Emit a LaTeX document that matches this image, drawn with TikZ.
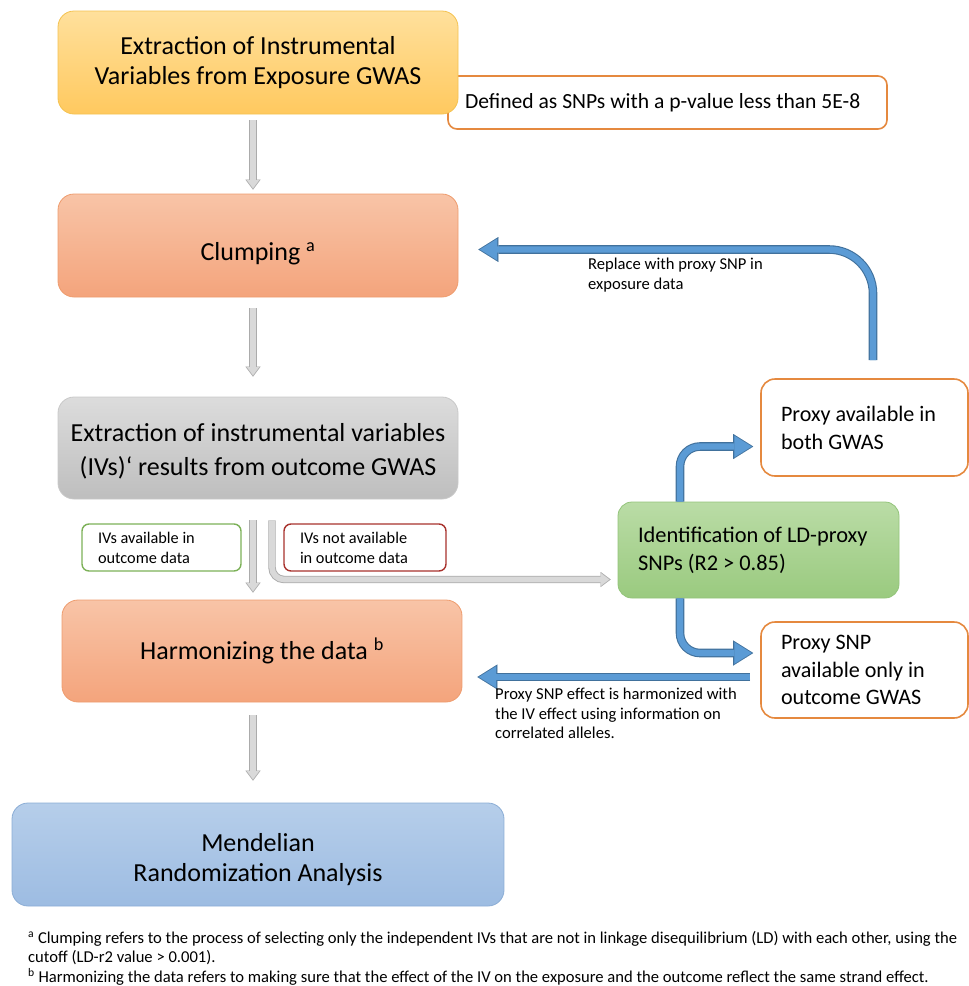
\documentclass[tikz,border=0pt]{standalone}
\usepackage{fontspec}
\setmainfont{Carlito}
\usetikzlibrary{arrows.meta,calc}
\definecolor{yeltop}{HTML}{FFE09C}
\definecolor{yelbot}{HTML}{FFC95F}
\definecolor{yeledge}{HTML}{F4C250}
\definecolor{saltop}{HTML}{F8C4A7}
\definecolor{salbot}{HTML}{F4A47C}
\definecolor{saledge}{HTML}{EE9C6E}
\definecolor{grytop}{HTML}{DCDCDC}
\definecolor{grybot}{HTML}{BEBEBE}
\definecolor{gryedge}{HTML}{C8C8C8}
\definecolor{blutop}{HTML}{B6CEEA}
\definecolor{blubot}{HTML}{9DBCE2}
\definecolor{bluedge}{HTML}{8BADD5}
\definecolor{grntop}{HTML}{BADCA6}
\definecolor{grnbot}{HTML}{9ACA7F}
\definecolor{grnedge}{HTML}{93C47A}
\definecolor{orline}{HTML}{E5893F}
\definecolor{gnline}{HTML}{7CB158}
\definecolor{rdline}{HTML}{A8322D}
\definecolor{arrfill}{HTML}{5B9BD5}
\definecolor{arredge}{HTML}{41719C}
\definecolor{gafill}{HTML}{D9D9D9}
\definecolor{gaedge}{HTML}{ABABAB}
\newcommand{\mkarrow}[2]{\draw[#1outer] #2; \draw[#1inner] #2;}
\newcommand{\nsk}{\spaceskip=0pt\xspaceskip=0pt\relax}
\begin{document}
\begin{tikzpicture}[x=1pt,y=-1pt,
  mainbox/.style={rounded corners=16pt, minimum width=400pt, minimum height=103pt,
    align=center, inner sep=0pt, line width=0.8pt, font=\fontsize{26}{30}\selectfont},
  notebox/.style={rounded corners=9pt, draw=orline, line width=1.6pt, fill=white,
    align=flush left, anchor=center},
  lbl/.style={rounded corners=7pt, line width=1.4pt, fill=white, align=flush left,
    minimum height=47pt, inner xsep=16pt, font=\fontsize{16.3}{20}\selectfont},
  smalltext/.style={align=left, anchor=north west, inner sep=0pt, font=\fontsize{16.6}{19.5}\selectfont},
  blueouter/.style={draw=arredge, line width=8.6pt, rounded corners=#1,
    -{Triangle[width=25pt,length=20pt,line width=0.01pt]}},
  blueinner/.style={draw=arrfill, line width=6.4pt, shorten >=1.6pt,
    -{Triangle[width=21.5pt,length=17.2pt,line width=0.01pt]}},
  grayouter/.style={draw=gaedge, line width=7.4pt,
    -{Triangle[width=15pt,length=10pt,line width=0.01pt]}},
  grayinner/.style={draw=gafill, line width=5.6pt, shorten >=1.3pt,
    -{Triangle[width=12.4pt,length=8.3pt,line width=0.01pt]}},
]
\useasboundingbox (0,0) rectangle (969,986);

% note behind yellow box
\node[notebox, minimum width=439pt, minimum height=53pt, text width=405pt, inner xsep=17pt,
  font=\fontsize{21.6}{24}\selectfont] (def) at (667.5,102.5) {\nsk Defined as SNPs with a p-value less than 5E-8};

\node[mainbox, top color=yeltop, bottom color=yelbot, draw=yeledge] (exp) at (258,62.5)
  {Extraction of Instrumental\\Variables from Exposure GWAS};
\node[mainbox, top color=saltop, bottom color=salbot, draw=saledge] (clump) at (258,245.5)
  {\mbox{}\\[4pt]Clumping \textsuperscript{a}};
\node[mainbox, top color=grytop, bottom color=grybot, draw=gryedge, minimum height=102pt,
  font=\fontsize{26}{34}\selectfont] (outc) at (258,448)
  {\mbox{}\\[-10pt]Extraction of instrumental variables\\(IVs)‘ results from outcome GWAS};
\node[mainbox, top color=saltop, bottom color=salbot, draw=saledge, minimum height=102pt] (harm) at (262,651)
  {Harmonizing the data \textsuperscript{b}};
\node[mainbox, top color=blutop, bottom color=blubot, draw=bluedge, minimum width=492pt] (mr) at (258,854.5)
  {\mbox{}\\[-2pt]Mendelian\\Randomization Analysis};

\node[lbl, draw=gnline, minimum width=159pt, text width=127pt] (avail) at (161.5,547.5)
  {\nsk IVs available in\\outcome data};
\node[lbl, draw=rdline, minimum width=162pt, text width=130pt] (notav) at (365,547.5)
  {\nsk IVs not available\\in outcome data};

\node[rounded corners=14pt, top color=grntop, bottom color=grnbot, draw=grnedge, line width=0.8pt,
  minimum width=281pt, minimum height=96pt, text width=241pt, inner xsep=20pt, align=flush left,
  font=\fontsize{22.4}{28}\selectfont] (ld) at (758.5,550)
  {\nsk Identification of LD-proxy\\SNPs (R2 > 0.85)};

\node[notebox, rounded corners=14pt, minimum width=207pt, minimum height=97pt, text width=167pt, inner xsep=20pt,
  font=\fontsize{22.1}{28}\selectfont] (both) at (864.5,427.5)
  {\nsk Proxy available in\\both GWAS};
\node[notebox, rounded corners=14pt, minimum width=207pt, minimum height=96pt, text width=167pt, inner xsep=20pt,
  font=\fontsize{22.1}{27.5}\selectfont] (only) at (864.5,670)
  {\nsk Proxy SNP\\available only in\\outcome GWAS};

% gray arrows
\coordinate (g1s) at ($(exp.south)+(-5,6)$);
\coordinate (g1e) at ($(clump.north)+(-5,-4)$);
\mkarrow{gray}{(g1s) -- (g1e)}
\coordinate (g2s) at ($(clump.south)+(-5,11)$);
\coordinate (g2e) at ($(outc.north)+(-5,-20)$);
\mkarrow{gray}{(g2s) -- (g2e)}
\coordinate (g3s) at ($(outc.south)+(-5,21)$);
\coordinate (g3e) at ($(harm.north)+(-9,-7)$);
\mkarrow{gray}{(g3s) -- (g3e)}
\coordinate (g4s) at ($(harm.south)+(-9,13)$);
\coordinate (g4e) at ($(mr.north)+(-5,-22)$);
\mkarrow{gray}{(g4s) -- (g4e)}
\coordinate (g5s) at ($(outc.south)+(14,21)$);
\coordinate (g5e) at ($(ld.west)+(-7,29.5)$);
\draw[grayouter, rounded corners=12pt] (g5s) |- (g5e);
\draw[grayinner, rounded corners=12pt] (g5s) |- (g5e);

% blue arrows
\coordinate (b1s) at ($(both.north)+(8.5,-18)$);
\coordinate (b1e) at ($(clump.east)+(20,4)$);
\draw[blueouter=44pt] (b1s) |- (b1e);
\draw[blueinner, rounded corners=44pt] (b1s) |- (b1e);

\coordinate (b2s) at ($(ld.north)+(-78.5,0)$);
\coordinate (b2e) at ($(both.west)+(-7,19)$);
\draw[blueouter=20pt] (b2s) |- (b2e);
\draw[blueinner, rounded corners=20pt] (b2s) |- (b2e);

\coordinate (b3s) at ($(ld.south)+(-78.5,0)$);
\coordinate (b3e) at ($(only.west)+(-7,-17)$);
\draw[blueouter=20pt] (b3s) |- (b3e);
\draw[blueinner, rounded corners=20pt] (b3s) |- (b3e);

\coordinate (b4s) at ($(only.west)+(-10,7)$);
\coordinate (b4e) at ($(harm.east)+(15,26)$);
\draw[blueouter=0pt] (b4s) -- (b4e);
\draw[blueinner] (b4s) -- (b4e);

% arrow labels
\node[smalltext] (rep) at (588,258) {Replace with proxy SNP in\\exposure data};
\node[smalltext] (harmtxt) at (495,688) {Proxy SNP effect is harmonized with\\the IV effect using information on\\correlated alleles.};

% footnotes
\node[anchor=north west, inner sep=0pt, align=left, font=\fontsize{16.6}{19.5}\selectfont] (fn) at (28,931)
  {\textsuperscript{a} Clumping refers to the process of selecting only the independent IVs that are not in linkage disequilibrium (LD) with each other, using the\\
   cutoff (LD-r2 value > 0.001).\\
   \textsuperscript{b} Harmonizing the data refers to making sure that the effect of the IV on the exposure and the outcome reflect the same strand effect.};
\end{tikzpicture}
\end{document}
